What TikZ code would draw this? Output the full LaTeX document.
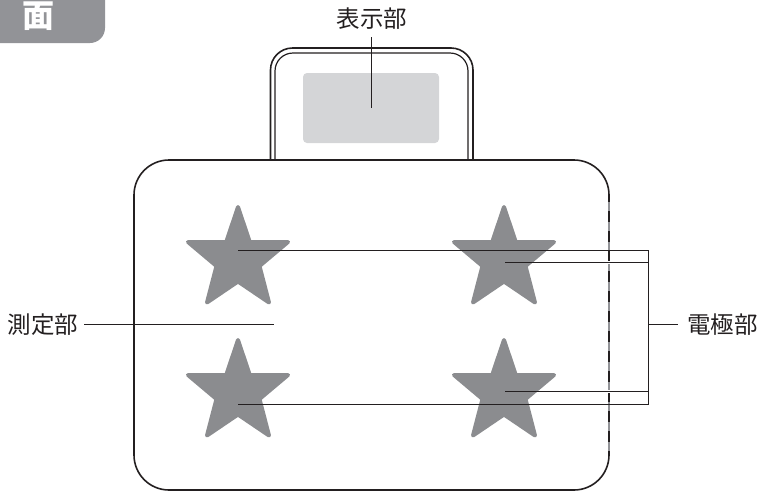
\documentclass[tikz,border=0pt]{standalone}
\usepackage{fontspec}
\newfontfamily\cjk{Noto Sans CJK JP}
\newcommand{\starshape}[2]{%
  \path[starfill,shift={(#1,#2)}]
    (0,-43.5) -- (11.8,-8.5) -- (50,-8.5) -- (21.5,15.5) -- (31,52) -- (0,31) -- (-31,52) -- (-21.5,15.5) -- (-50,-8.5) -- (-11.8,-8.5) -- cycle;}
\definecolor{tabgray}{HTML}{929397}
\definecolor{stargray}{HTML}{8B8C8F}
\definecolor{screengray}{HTML}{D4D5D7}
\definecolor{ink}{HTML}{231F20}
\tikzset{
  starfill/.style={fill=stargray,draw=stargray,line width=4pt,line join=round},
  outline/.style={draw=ink,line width=1.6pt},
  leader/.style={draw=ink,line width=1.6pt},
  lbl/.style={font=\cjk\fontsize{23.5}{23.5}\selectfont,text=ink,inner sep=0pt,anchor=center},
}
\begin{document}
\begin{tikzpicture}[x=1pt,y=-1pt]
\useasboundingbox (0,0) rectangle (761,496);
% tab
\fill[tabgray,rounded corners=15pt] (-30,-30) rectangle (105,43);
\node[inner sep=0pt,text=white,font=\cjk\bfseries\fontsize{32}{32}\selectfont] (tab) at (38.5,16.5) {面};
% head
\draw[outline] (270.5,160) -- (270.5,70) arc[start angle=180,end angle=90,radius=22,y radius=-22] -- (451,48) arc[start angle=90,end angle=0,radius=22,y radius=-22] -- (473,160);
\draw[outline,line width=1.2pt] (275,160) -- (275,71) arc[start angle=180,end angle=90,radius=18,y radius=-18] -- (450,53) arc[start angle=90,end angle=0,radius=18,y radius=-18] -- (468,160);
\node[fill=screengray,draw=none,rounded corners=4pt,minimum width=136pt,minimum height=70pt,inner sep=0pt] (screen) at (371,108) {};
% body
\draw[outline] (609,195) arc[start angle=0,end angle=90,radius=35,y radius=-35] -- (169,160) arc[start angle=90,end angle=180,radius=35,y radius=-35] -- (134,455) arc[start angle=180,end angle=270,radius=35,y radius=-35] -- (574,490) arc[start angle=270,end angle=360,radius=35,y radius=-35];
\draw[draw=tabgray,line width=1.5pt] (609,195) -- (609,455);
\draw[draw=ink,line width=1.5pt,dash pattern=on 11pt off 9pt,dash phase=4pt] (609,195) -- (609,455);
% stars
\starshape{238}{250.5}
\starshape{504}{250.5}
\starshape{238}{383.5}
\starshape{504}{383.5}
% named ends
\coordinate (s1) at (238,250.5);
\coordinate (s2) at (505,262.5);
\coordinate (s3) at (505,391.5);
\coordinate (s4) at (238,404.5);
\coordinate (bt) at (648.5,250.5);
\coordinate (b2) at (648.5,262.5);
\coordinate (b3) at (648.5,391.5);
\coordinate (bb) at (648.5,404.5);
\coordinate (bm) at (648.5,324.5);
\coordinate (bq) at (677.5,324.5);
\coordinate (mt) at (274,324.5);
\coordinate (ml) at (84,324.5);
\coordinate (dt) at (371.5,108);
\coordinate (du) at (371.5,37);
% labels
\node[lbl] (hyoji) at (372,19) {表示部};
\node[lbl] (sokutei) at (43,325) {測定部};
\node[lbl] (denkyoku) at (722.5,325) {電極部};
% leaders
\draw[white,line width=3pt] (600,262.5) -- (618,262.5);
\draw[white,line width=3pt] (600,391.5) -- (618,391.5);
\draw[leader] (s1) -- (bt);
\draw[leader] (s2) -- (b2);
\draw[leader] (s3) -- (b3);
\draw[leader] (s4) -- (bb);
\draw[leader,line cap=rect] (bt) -- (bb);
\draw[leader] (bm) -- (bq);
\draw[leader] (ml) -- (mt);
\draw[leader] (du) -- (dt);
\end{tikzpicture}
\end{document}
